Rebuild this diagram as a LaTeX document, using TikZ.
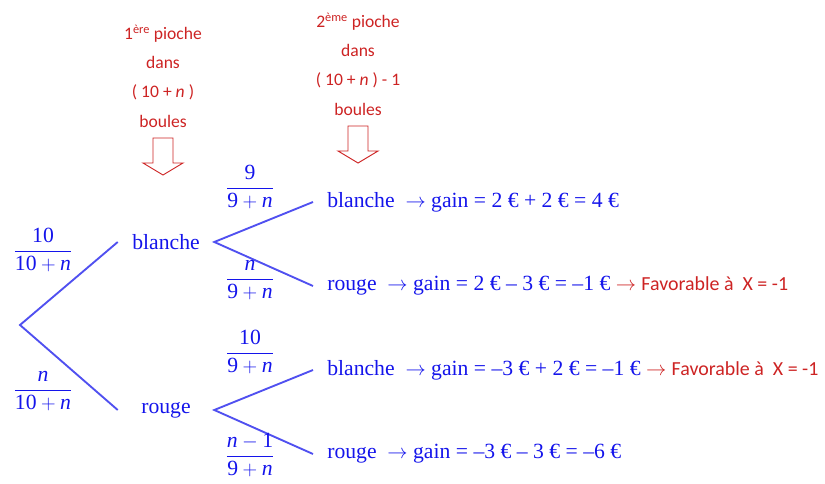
\documentclass[tikz,border=0pt]{standalone}
\usepackage{amsmath}
\usepackage{fontspec}
\usepackage{xcolor}
\usepackage{tikz}
\usetikzlibrary{positioning}
\setmainfont{Liberation Serif}
\newfontfamily\notefont{Carlito}
\definecolor{BleuTexte}{RGB}{20, 20, 235}
\definecolor{BleuBranche}{RGB}{80, 80, 240}
\definecolor{RougeNote}{RGB}{205, 35, 35}
\newcommand{\fav}{\textcolor{RougeNote}{\ $\rightarrow$ {\notefont\fontsize{17}{19}\selectfont Favorable à\ \ X = -1}}}

\begin{document}
\begin{tikzpicture}[x=0.03cm, y=-0.03cm,
  branche/.style={draw=BleuBranche, line width=1.6pt},
  issue/.style={text=BleuTexte, font=\fontsize{18.5}{20}\selectfont, inner xsep=0pt, minimum width=82pt},
  feuille/.style={text=BleuTexte, font=\fontsize{18.5}{20}\selectfont, anchor=west, inner xsep=12pt},
  proba/.style={text=BleuTexte, font=\fontsize{18.5}{20}\selectfont, inner sep=0pt},
  note/.style={text=RougeNote, font=\notefont\fontsize{15}{25}\selectfont, align=center},
  fleche/.style={draw=RougeNote, line width=0.8pt}]
  \useasboundingbox (0,0) rectangle (825,484);

  % textes rouges au-dessus
  \node[note] (pioche1) at (163,76) {1\textsuperscript{ère} pioche\\dans\\( 10 + \textit{n} )\\boules};
  \node[note] (pioche2) at (358,64) {2\textsuperscript{ème} pioche\\dans\\( 10 + \textit{n} ) - 1\\boules};
  \coordinate (fl1) at (163,138);
  \coordinate (fl2) at (358,126);
  \foreach \f in {fl1, fl2}
    \draw[fleche] (\f) ++(-10,0) -- ++(20,0) -- ++(0,25) -- ++(10,0) -- ++(-20,12)
      -- ++(-20,-12) -- ++(10,0) -- cycle;

  % arbre
  \coordinate (racine) at (20,325);
  \node[issue] (b) at (166,242) {blanche};
  \node[issue] (r) at (166,410) {rouge};
  \node[feuille] (bb) at (313,202) {blanche\ \ $\rightarrow$ gain = 2 € + 2 € = 4 €};
  \node[feuille] (br) at (313,286) {rouge\ \ $\rightarrow$ gain = 2 € – 3 € = –1 €\fav};
  \node[feuille] (rb) at (313,370) {blanche\ \ $\rightarrow$ gain = –3 € + 2 € = –1 €\fav};
  \node[feuille] (rr) at (313,454) {rouge\ \ $\rightarrow$ gain = –3 € – 3 € = –6 €};

  \draw[branche] (b.west) -- (racine) -- (r.west);
  \draw[branche] (bb.west) -- (b.east) -- (br.west);
  \draw[branche] (rb.west) -- (r.east) -- (rr.west);

  % probabilites
  \node[proba] (p1) at (43,250) {$\dfrac{\text{10}}{\text{10} + \textit{n}}$};
  \node[proba] (p2) at (43,391) {$\dfrac{\textit{n}}{\text{10} + \textit{n}}$};
  \node[proba] (p3) at (250,187) {$\dfrac{\text{9}}{\text{9} + \textit{n}}$};
  \node[proba] (p4) at (250,280) {$\dfrac{\textit{n}}{\text{9} + \textit{n}}$};
  \node[proba] (p5) at (250,352) {$\dfrac{\text{10}}{\text{9} + \textit{n}}$};
  \node[proba] (p6) at (250,455) {$\dfrac{\textit{n} - \text{1}}{\text{9} + \textit{n}}$};
\end{tikzpicture}
\end{document}
